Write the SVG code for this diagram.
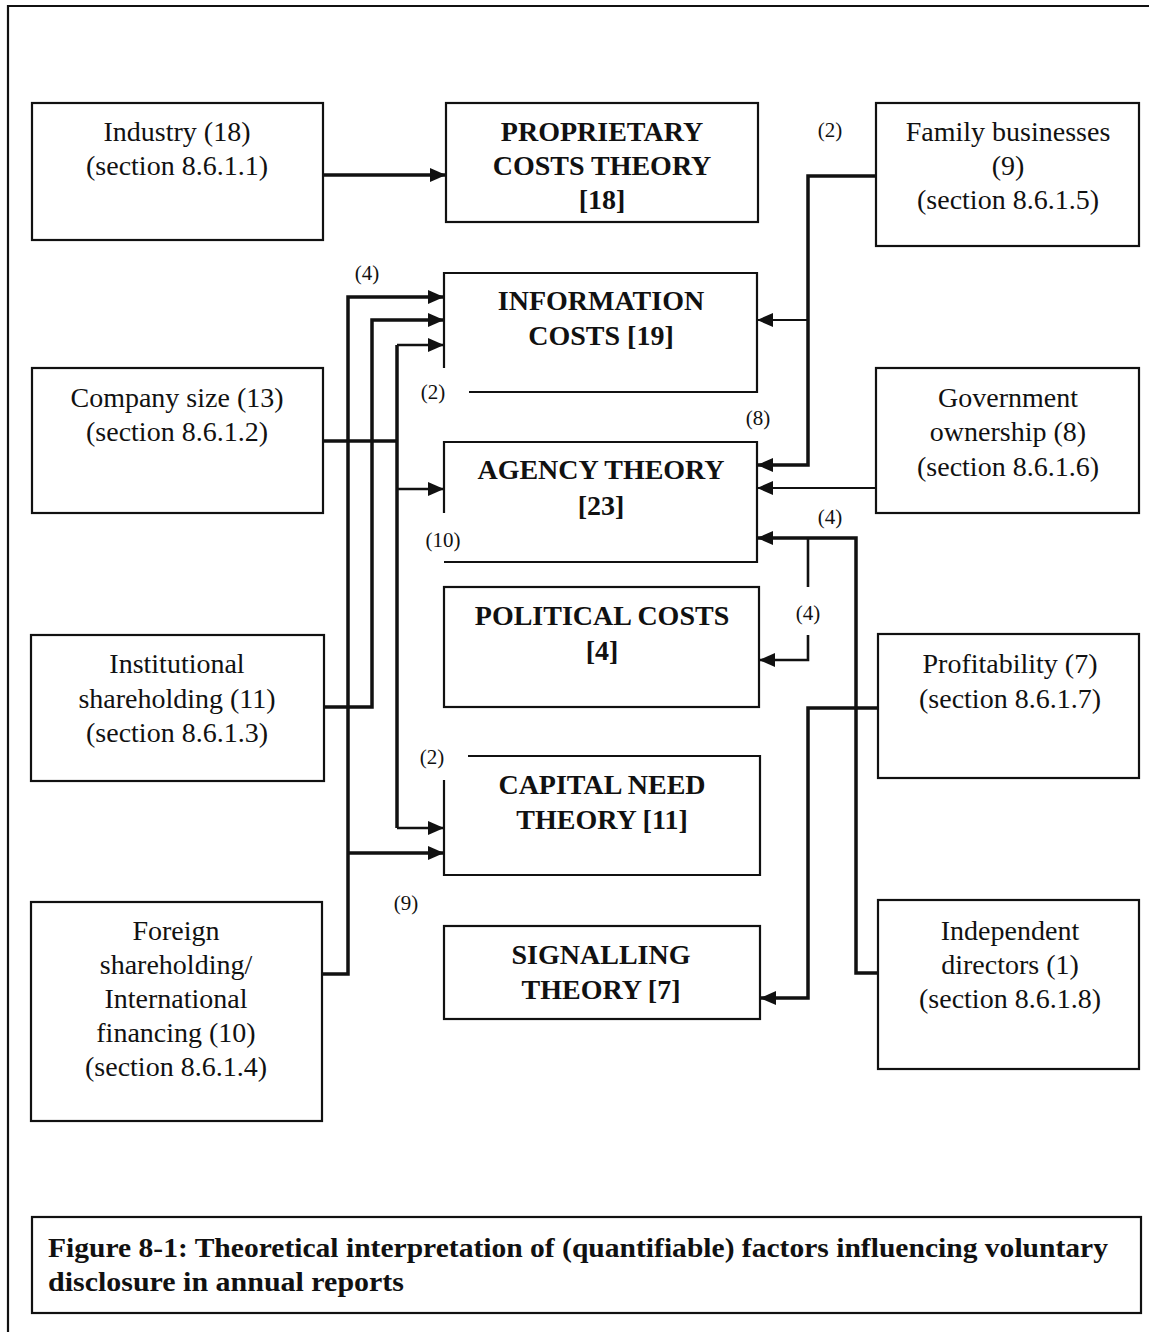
<svg xmlns="http://www.w3.org/2000/svg" width="1149" height="1332" viewBox="0 0 1149 1332">
<style>
.box{fill:none;stroke:#111;stroke-width:2.2}
.t{font-family:"Liberation Serif","Times New Roman",serif;font-size:28px;fill:#111;text-anchor:middle}
.b{font-weight:bold}
.n{font-family:"Liberation Serif","Times New Roman",serif;font-size:21px;fill:#111;text-anchor:middle}
.thick{fill:none;stroke:#111;stroke-width:3.5}
.mid{fill:none;stroke:#111;stroke-width:2.6}
.thin{fill:none;stroke:#111;stroke-width:1.8}
.cap{font-family:"Liberation Serif","Times New Roman",serif;font-size:27px;font-weight:bold;fill:#111}
</style>
<defs>
<marker id="ah" viewBox="0 0 16 14" refX="16" refY="7" markerWidth="16" markerHeight="14" markerUnits="userSpaceOnUse" orient="auto">
<path d="M0,0 L16,7 L0,14 z" fill="#111"/>
</marker>
</defs>
<rect width="1149" height="1332" fill="#fff"/>
<g id="frame">
<path class="box" d="M8,1332 V6 H1149"/>
</g>

<g id="n-industry">
<rect class="box" x="32" y="103" width="291" height="137"/>
<text class="t" x="177" y="141">Industry (18)</text>
<text class="t" x="177" y="175">(section 8.6.1.1)</text>
</g>
<g id="n-company">
<rect class="box" x="32" y="368" width="291" height="145"/>
<text class="t" x="177" y="407">Company size (13)</text>
<text class="t" x="177" y="441">(section 8.6.1.2)</text>
</g>
<g id="n-institutional">
<rect class="box" x="31" y="635" width="293" height="146"/>
<text class="t" x="177" y="673">Institutional</text>
<text class="t" x="177" y="708">shareholding (11)</text>
<text class="t" x="177" y="742">(section 8.6.1.3)</text>
</g>
<g id="n-foreign">
<rect class="box" x="31" y="902" width="291" height="219"/>
<text class="t" x="176" y="940">Foreign</text>
<text class="t" x="176" y="974">shareholding/</text>
<text class="t" x="176" y="1008">International</text>
<text class="t" x="176" y="1042">financing (10)</text>
<text class="t" x="176" y="1076">(section 8.6.1.4)</text>
</g>

<g id="n-proprietary">
<rect class="box" x="446" y="103" width="312" height="119"/>
<text class="t b" x="602" y="141">PROPRIETARY</text>
<text class="t b" x="602" y="175">COSTS THEORY</text>
<text class="t b" x="602" y="209">[18]</text>
</g>
<g id="n-information">
<path class="box" d="M444,368 V273 H757 V392 H469"/>
<text class="t b" x="601" y="310">INFORMATION</text>
<text class="t b" x="601" y="345">COSTS [19]</text>
</g>
<g id="n-agency">
<path class="box" d="M444,513 V442 H757 V562 H444"/>
<text class="t b" x="601" y="479">AGENCY THEORY</text>
<text class="t b" x="601" y="515">[23]</text>
</g>
<g id="n-political">
<rect class="box" x="444" y="587" width="315" height="120"/>
<text class="t b" x="602" y="625">POLITICAL COSTS</text>
<text class="t b" x="602" y="660">[4]</text>
</g>
<g id="n-capital">
<path class="box" d="M468,756 H760 V875 H444 V780"/>
<text class="t b" x="602" y="794">CAPITAL NEED</text>
<text class="t b" x="602" y="829">THEORY [11]</text>
</g>
<g id="n-signalling">
<rect class="box" x="444" y="926" width="316" height="93"/>
<text class="t b" x="601" y="964">SIGNALLING</text>
<text class="t b" x="601" y="999">THEORY [7]</text>
</g>

<g id="n-family">
<rect class="box" x="876" y="103" width="263" height="143"/>
<text class="t" x="1008" y="141">Family businesses</text>
<text class="t" x="1008" y="175">(9)</text>
<text class="t" x="1008" y="209">(section 8.6.1.5)</text>
</g>
<g id="n-government">
<rect class="box" x="876" y="368" width="263" height="145"/>
<text class="t" x="1008" y="407">Government</text>
<text class="t" x="1008" y="441">ownership (8)</text>
<text class="t" x="1008" y="476">(section 8.6.1.6)</text>
</g>
<g id="n-profitability">
<rect class="box" x="878" y="634" width="261" height="144"/>
<text class="t" x="1010" y="673">Profitability (7)</text>
<text class="t" x="1010" y="708">(section 8.6.1.7)</text>
</g>
<g id="n-independent">
<rect class="box" x="878" y="900" width="261" height="169"/>
<text class="t" x="1010" y="940">Independent</text>
<text class="t" x="1010" y="974">directors (1)</text>
<text class="t" x="1010" y="1008">(section 8.6.1.8)</text>
</g>

<g id="connectors">
<path class="thick" d="M324,175 H446" marker-end="url(#ah)"/>
<path class="thick" d="M324,441 H397"/>
<path class="thick" d="M397,345 V828"/>
<path class="mid" d="M397,345 H444" marker-end="url(#ah)"/>
<path class="mid" d="M397,489 H444" marker-end="url(#ah)"/>
<path class="mid" d="M397,828 H444" marker-end="url(#ah)"/>
<path class="thick" d="M324,707 H372 V320 H444" marker-end="url(#ah)"/>
<path class="thick" d="M322,974 H348 V297 H444" marker-end="url(#ah)"/>
<path class="thick" d="M348,853 H444" marker-end="url(#ah)"/>
<path class="thick" d="M876,176 H808 V465 H757" marker-end="url(#ah)"/>
<path class="thin" d="M808,320 H757" marker-end="url(#ah)"/>
<path class="thin" d="M876,488 H757" marker-end="url(#ah)"/>
<path class="thick" d="M878,973 H856 V538 H757" marker-end="url(#ah)"/>
<path class="mid" d="M808,538 V587"/>
<path class="mid" d="M808,635 V660 H759" marker-end="url(#ah)"/>
<path class="thick" d="M878,708 H808 V998 H760" marker-end="url(#ah)"/>
</g>

<g id="labels">
<text class="n" x="367" y="280">(4)</text>
<text class="n" x="433" y="399">(2)</text>
<text class="n" x="443" y="547">(10)</text>
<text class="n" x="432" y="764">(2)</text>
<text class="n" x="406" y="910">(9)</text>
<text class="n" x="830" y="137">(2)</text>
<text class="n" x="758" y="425">(8)</text>
<text class="n" x="830" y="524">(4)</text>
<text class="n" x="808" y="620">(4)</text>
</g>

<g id="caption">
<rect class="box" x="32" y="1217" width="1109" height="96"/>
<text class="cap" x="48" y="1257" textLength="1060" lengthAdjust="spacingAndGlyphs">Figure 8-1: Theoretical interpretation of (quantifiable) factors influencing voluntary</text>
<text class="cap" x="48" y="1291" textLength="356" lengthAdjust="spacingAndGlyphs">disclosure in annual reports</text>
</g>
</svg>
